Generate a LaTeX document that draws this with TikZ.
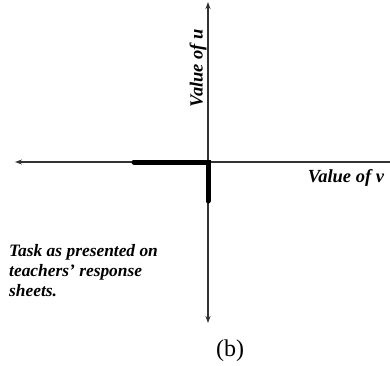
\documentclass[tikz,border=0pt]{standalone}
\usepackage{fontspec}
\setmainfont{Liberation Serif}
\usetikzlibrary{arrows.meta}
\begin{document}
\begin{tikzpicture}[x=1pt,y=-1pt,
  axis/.style={line width=1.1pt,draw=black!80,-{Stealth[length=7pt,width=5pt]}},
  heavy/.style={line width=5pt,line cap=round,line join=miter},
  lbl/.style={font=\fontsize{18.5}{22}\selectfont\bfseries\itshape,inner sep=0pt}]
\useasboundingbox (0,0) rectangle (390,365);
\coordinate (O) at (208,162);
\coordinate (top) at (208,2);
\coordinate (bot) at (208,323);
\coordinate (left) at (15,162);
\coordinate (right) at (390,162);
\coordinate (hl) at (134,162);
\coordinate (vb) at (208,201);
\draw[axis] (O) -- (top);
\draw[axis] (O) -- (bot);
\draw[axis] (right) -- (left);
\draw[heavy] (hl) -- (O) -- (vb);
\node[lbl,rotate=90] (u) at (198,68) {Value of \textit{u}};
\node[lbl] (v) at (346,178) {Value of \textit{v}};
\node[lbl,anchor=north west,align=left,font=\fontsize{17.4}{20}\selectfont\bfseries\itshape] (task) at (9,244) {Task as presented on\\teachers' response\\sheets.};
\node[inner sep=0pt,font=\fontsize{24}{28}\selectfont] (b) at (230,351) {(b)};
\end{tikzpicture}
\end{document}
